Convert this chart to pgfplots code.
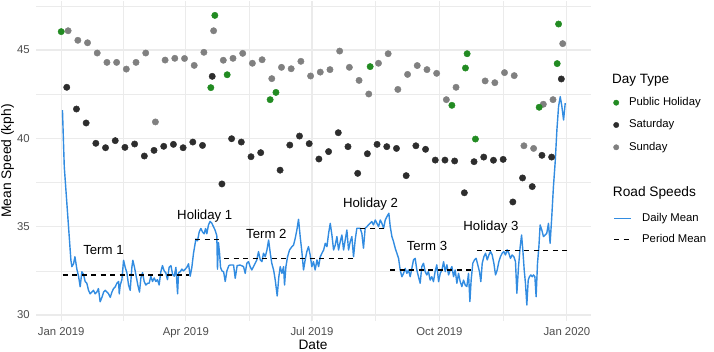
\documentclass[border=0pt]{standalone}
\usepackage{fontspec}
\setmainfont{Liberation Sans}
\usepackage{pgfplots}
\pgfplotsset{compat=1.18}
\usepackage{pgfplotstable}
\definecolor{linecol}{RGB}{50,140,225}
\definecolor{holcol}{RGB}{34,139,34}
\definecolor{satcol}{RGB}{45,45,45}
\definecolor{suncol}{RGB}{128,128,128}
\definecolor{gridcol}{RGB}{235,235,235}
\definecolor{tickcol}{RGB}{77,77,77}
\pgfplotstableread{
d v
0.9 41.6
2.2 38.4
7.0 33.1
7.7 32.74
8.9 32.9
9.9 33.3
11.3 32.6
12.5 32.2
13.7 31.6
14.9 32.45
16.1 32.3
17.3 31.9
18.5 31.8
19.7 31.4
20.9 31.2
22.1 31.3
23.3 31.4
24.5 31.2
25.7 31.3
26.9 31.5
28.1 30.75
29.4 31.0
30.6 31.3
31.8 31.4
33.0 31.3
34.2 31.2
35.4 31.0
36.6 31.3
37.8 31.5
39.0 31.6
40.2 31.8
41.4 31.9
41.9 31.2
42.6 31.7
43.8 32.0
45.0 33.1
46.2 32.7
47.4 32.4
48.6 31.7
49.8 31.4
51.0 32.7
51.7 33.1
52.9 32.7
54.1 32.2
55.3 31.7
56.5 31.3
57.5 32.1
58.7 32.4
59.9 31.9
61.1 31.7
62.3 31.8
63.5 31.8
64.7 32.2
65.9 31.9
67.1 32.1
68.3 31.9
69.5 32.0
70.7 31.7
71.9 32.45
73.1 32.8
74.3 32.5
75.5 32.4
76.7 32.0
77.9 32.7
79.2 32.8
80.4 32.3
81.6 32.2
82.8 32.7
84.0 31.2
84.7 32.4
85.9 32.45
87.1 32.6
88.3 32.5
89.5 32.6
90.7 32.7
91.9 32.9
93.1 32.2
94.3 32.7
95.5 33.5
97.2 34.3
98.4 34.2
99.6 34.7
100.8 34.9
102.0 34.7
103.2 34.6
104.2 34.9
105.1 34.6
106.3 35.1
107.5 35.3
108.7 35.2
109.9 35.0
111.1 34.8
112.3 34.5
112.8 32.6
113.5 34.1
114.3 33.5
115.0 32.7
116.0 32.5
117.2 32.45
118.4 31.9
119.6 32.5
121.0 32.8
122.0 32.83
124.4 32.83
125.6 32.08
127.0 32.8
129.2 32.83
131.6 32.74
132.8 32.36
134.0 32.93
135.2 33.02
136.4 32.74
137.6 32.55
138.8 32.74
140.0 32.93
141.2 33.12
142.4 33.59
143.7 33.12
144.9 33.02
146.0 33.5
147.3 33.3
148.5 33.68
149.7 34.25
150.9 33.5
152.0 32.93
153.3 32.55
154.5 31.98
155.9 31.08
157.1 32.17
158.1 32.74
159.3 32.36
160.5 32.74
161.2 31.7
162.2 32.74
163.4 33.3
164.8 33.68
166.5 33.87
167.7 33.96
168.9 34.34
170.1 34.81
171.3 35.42
172.5 34.44
173.7 33.59
174.9 32.55
176.1 33.12
177.3 33.59
178.5 33.87
179.7 33.4
180.9 32.74
182.1 33.02
183.3 32.55
184.6 33.12
185.8 32.74
187.0 33.3
188.2 33.5
189.4 33.68
190.6 34.06
191.8 33.87
193.0 34.62
194.2 35.19
195.4 34.53
196.6 33.68
197.8 33.96
199.0 34.44
200.2 33.68
201.4 34.15
202.6 34.53
203.8 33.68
205.0 34.25
206.2 34.81
207.4 33.68
208.6 34.15
209.8 34.44
211.0 33.3
212.2 34.25
213.4 34.91
214.6 34.91
215.8 34.91
217.0 34.62
218.2 33.78
219.4 34.91
220.6 35.0
221.8 35.1
223.0 35.19
224.2 35.29
225.4 35.1
226.7 35.38
227.9 35.19
229.1 35.0
230.3 35.38
231.5 35.19
232.7 34.91
233.9 35.38
235.1 35.57
236.5 35.76
237.5 35.0
238.7 34.44
239.9 34.15
241.1 33.78
242.3 33.5
243.5 33.21
244.7 32.55
245.9 32.17
247.1 32.36
248.3 32.64
249.5 32.36
250.7 32.55
251.9 32.17
254.3 33.12
255.5 33.21
256.7 32.55
257.9 32.17
259.1 31.8
260.3 32.74
261.5 32.93
262.7 32.46
263.9 32.27
265.1 32.46
266.3 31.98
267.5 32.17
268.7 31.89
269.9 32.46
271.1 32.84
272.4 31.89
273.6 32.36
274.8 32.55
276.0 33.02
277.2 32.46
278.4 32.84
279.6 32.27
280.8 32.55
282.0 32.74
283.2 32.17
284.4 32.55
285.6 31.8
286.8 32.36
288.0 31.89
289.2 31.61
290.4 31.98
291.6 31.7
292.8 31.61
294.0 32.36
295.0 30.76
295.9 31.98
297.1 32.93
298.3 33.12
299.5 33.21
300.7 32.84
301.9 32.46
302.9 31.89
303.9 32.93
305.1 33.31
306.3 33.5
307.5 33.12
308.7 33.4
309.9 33.59
311.1 33.4
312.3 32.93
313.5 32.27
314.7 32.55
315.9 33.02
317.1 33.31
318.3 33.5
319.5 33.59
320.7 33.4
321.9 33.69
323.1 33.5
324.3 33.21
325.5 33.4
326.7 33.31
327.9 33.02
328.9 31.23
330.1 32.74
331.3 33.87
332.3 34.53
333.2 33.69
334.2 32.55
335.1 31.8
336.1 30.57
337.1 31.98
338.0 32.17
339.0 32.27
340.0 32.17
340.9 32.27
341.9 32.17
342.8 31.04
343.8 32.93
344.8 33.87
345.7 35.1
346.9 34.82
348.1 34.44
349.3 34.53
350.5 34.63
351.7 35.19
352.9 34.06
354.1 35.57
355.3 37.27
356.6 38.7
357.8 40.48
359.0 41.8
360.2 42.36
361.4 41.8
362.6 41.04
363.8 41.99
}\dailytab
\pgfplotstableread{
d v
4 42.89
11 41.66
18 40.87
25 39.72
32 39.47
39 39.87
46 39.49
53 39.68
60 39.0
67 39.32
74 39.55
81 39.66
88 39.47
95 39.79
102 39.6
109 43.51
116 37.42
123 39.98
130 39.79
137 38.96
144 39.19
158 38.2
165 39.62
172 40.13
179 39.7
186 38.83
193 39.25
200 40.32
207 39.53
214 38.02
221 39.13
228 39.66
235 39.53
242 39.43
249 37.89
256 39.58
263 39.38
270 38.77
277 38.77
284 38.72
291 36.92
298 38.68
305 38.94
312 38.76
319 38.81
326 36.4
333 37.76
340 37.27
347 39.04
354 38.94
361 43.36
}\sattab
\pgfplotstableread{
d v
5 46.09
12 45.55
19 45.41
26 44.83
33 44.30
40 44.30
47 43.92
54 44.30
61 44.83
68 40.93
75 44.43
82 44.53
89 44.52
96 44.13
103 44.87
110 46.09
117 44.42
124 44.53
131 44.81
138 44.25
145 44.45
152 43.38
159 44.02
166 43.94
173 44.36
180 43.53
187 43.75
194 43.89
201 44.94
208 44.02
215 43.28
222 42.51
229 44.25
236 44.79
243 42.77
250 43.62
257 44.12
264 43.89
271 43.68
278 42.19
285 42.89
306 43.25
313 43.15
320 43.72
327 43.55
334 39.58
341 39.43
348 41.93
355 42.19
362 45.36
}\suntab
\pgfplotstableread{
d v
0 46.04
108 42.87
110.9 46.96
119.8 43.6
150.8 42.19
155 42.6
223 44.06
282 41.87
291.8 43.98
293 44.79
299 39.96
345 41.76
358 44.23
359 46.47
}\holtab
\begin{document}
\begin{tikzpicture}
\path[use as bounding box] (0,0) rectangle (714pt,352pt);
\begin{axis}[
  at={(36pt,31.3pt)}, anchor=south west,
  scale only axis, width=554.7pt, height=319.8pt,
  xmin=-18.2, xmax=382.2, ymin=29.68, ymax=47.78,
  clip=false,
  axis line style={draw=none}, tick style={draw=none},
  major tick length=0pt, minor tick length=0pt,
  xtick={0,90,181,273,365},
  xticklabels={Jan 2019,Apr 2019,Jul 2019,Oct 2019,Jan 2020},
  minor xtick={45,135.5,227,319},
  ytick={30,35,40,45},
  minor ytick={32.5,37.5,42.5,47.5},
  xmajorgrids, ymajorgrids, xminorgrids, yminorgrids,
  major grid style={draw=gridcol, line width=1.1pt},
  minor grid style={draw=gridcol, line width=0.55pt},
  /pgf/number format/assume math mode=true,
  xticklabel style={anchor=base, yshift=-15.1pt, inner sep=0pt, text=tickcol, font=\fontsize{11.35}{13}\selectfont},
  yticklabel style={anchor=east, xshift=-6pt, inner sep=0pt, text=tickcol, font=\fontsize{11.35}{13}\selectfont},
  legend cell align=left,
  legend style={at={(axis description cs:1.04110,0.69809)}, anchor=north west, draw=none, fill=none, inner sep=0pt, outer sep=0pt, row sep=11.8pt, column sep=10.2pt, font=\fontsize{11.3}{13}\selectfont, nodes={inner sep=0pt, text height=8.1pt, text depth=2.4pt}},
]
\addplot[linecol, line width=1.4pt, line join=round, forget plot] table[x=d,y=v]{\dailytab};
\addplot[black, line width=1.3pt, dash pattern=on 5pt off 4.5pt, forget plot] coordinates {(1,32.27)(92,32.27)};
\addplot[black, line width=1.3pt, dash pattern=on 5pt off 4.5pt, forget plot] coordinates {(96.7,34.28)(115.3,34.28)};
\addplot[black, line width=1.3pt, dash pattern=on 5pt off 4.5pt, forget plot] coordinates {(117.6,33.21)(213,33.21)};
\addplot[black, line width=1.3pt, dash pattern=on 5pt off 4.5pt, forget plot] coordinates {(216,34.91)(234.6,34.91)};
\addplot[black, line width=1.3pt, dash pattern=on 5pt off 4.5pt, forget plot] coordinates {(237.5,32.55)(296.4,32.55)};
\addplot[black, line width=1.3pt, dash pattern=on 5pt off 4.5pt, forget plot] coordinates {(300,33.64)(365,33.64)};
\addplot[only marks, mark=*, mark size=3.2pt, color=suncol, forget plot] table[x=d,y=v]{\suntab};
\addplot[only marks, mark=*, mark size=3.2pt, color=satcol, forget plot] table[x=d,y=v]{\sattab};
\addplot[only marks, mark=*, mark size=3.2pt, color=holcol, forget plot] table[x=d,y=v]{\holtab};
\node[anchor=base, inner sep=0pt, font=\fontsize{13.2}{15}\selectfont] at (axis cs:30.5,33.42) {Term 1};
\node[anchor=base, inner sep=0pt, font=\fontsize{13.2}{15}\selectfont] at (axis cs:103.6,35.40) {Holiday 1};
\node[anchor=base, inner sep=0pt, font=\fontsize{13.2}{15}\selectfont] at (axis cs:148.1,34.33) {Term 2};
\node[anchor=base, inner sep=0pt, font=\fontsize{13.2}{15}\selectfont] at (axis cs:223.3,36.06) {Holiday 2};
\node[anchor=base, inner sep=0pt, font=\fontsize{13.2}{15}\selectfont] at (axis cs:264,33.66) {Term 3};
\node[anchor=base, inner sep=0pt, font=\fontsize{13.2}{15}\selectfont] at (axis cs:310.2,34.80) {Holiday 3};
\addlegendimage{only marks, mark=*, mark size=2.7pt, color=holcol}
\addlegendentry{Public Holiday}
\addlegendimage{only marks, mark=*, mark size=2.7pt, color=satcol}
\addlegendentry{Saturday}
\addlegendimage{only marks, mark=*, mark size=2.7pt, color=suncol}
\addlegendentry{Sunday}
\end{axis}
\begin{axis}[
  at={(36pt,31.3pt)}, anchor=south west,
  scale only axis, width=554.7pt, height=319.8pt,
  xmin=-18.2, xmax=382.2, ymin=29.68, ymax=47.78,
  hide axis,
  legend cell align=left,
  legend style={at={(axis description cs:1.04110,0.33662)}, anchor=north west, draw=none, fill=none, inner sep=0pt, outer sep=0pt, row sep=10.5pt, column sep=10.2pt, font=\fontsize{11.3}{13}\selectfont, nodes={inner sep=0pt, text height=8.1pt, text depth=2.4pt}},
]
\addlegendimage{linecol, line width=1.4pt}
\addlegendentry{Daily Mean}
\addlegendimage{black, line width=1.3pt, dash pattern=on 5pt off 4.5pt}
\addlegendentry{Period Mean}
\end{axis}
\node[anchor=base west, inner sep=0pt, font=\fontsize{13.5}{16}\selectfont] at (612pt,268.5pt) {Day Type};
\node[anchor=base west, inner sep=0pt, font=\fontsize{13.7}{16}\selectfont] at (612.7pt,155pt) {Road Speeds};
\node[anchor=base, rotate=90, inner sep=0pt, font=\fontsize{13.8}{16}\selectfont] at (11pt,191pt) {Mean Speed (kph)};
\node[anchor=base, inner sep=0pt, font=\fontsize{13.7}{16}\selectfont] at (313pt,2.2pt) {Date};
\end{tikzpicture}
\end{document}
